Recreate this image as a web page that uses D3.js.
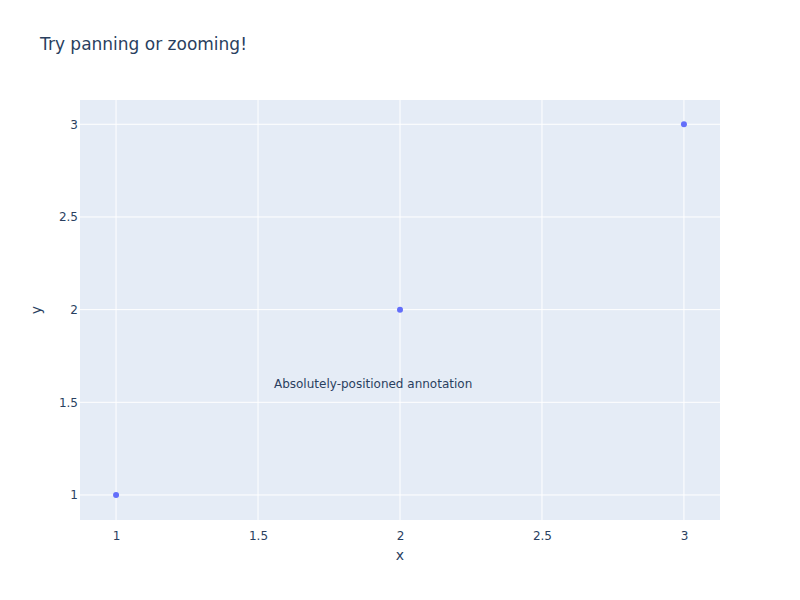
<!DOCTYPE html>
<html>
<head>
<meta charset="utf-8">
<script src="https://cdn.jsdelivr.net/npm/d3@7"></script>
<style>
  body { margin: 0; background: #fff; }
  svg text { font-family: "DejaVu Sans", verdana, arial, sans-serif; }
</style>
</head>
<body>
<svg id="chart" width="800" height="600"></svg>
<script>
const xValues = [1, 2, 3];
const yValues = [1, 2, 3];
const xTicks = [1, 1.5, 2, 2.5, 3];
const yTicks = [1, 1.5, 2, 2.5, 3];
const titleText = "Try panning or zooming!";
const annotationText = "Absolutely-positioned annotation";
const xDomain = [0.873, 3.127];
const yDomain = [0.865, 3.131];

const W = 800, H = 600;
const margin = { l: 80, r: 80, t: 100, b: 80 };
const pw = W - margin.l - margin.r, ph = H - margin.t - margin.b;
const textColor = "#2a3f5f";

const svg = d3.select("#chart");
const g = svg.append("g").attr("transform", `translate(${margin.l},${margin.t})`);

const x = d3.scaleLinear().domain(xDomain).range([0, pw]);
const y = d3.scaleLinear().domain(yDomain).range([ph, 0]);

g.append("rect").attr("width", pw).attr("height", ph).attr("fill", "#e5ecf6");

// gridlines
g.append("g").selectAll("line").data(xTicks).join("line")
  .attr("x1", d => x(d)).attr("x2", d => x(d))
  .attr("y1", 0).attr("y2", ph)
  .attr("stroke", "#fff").attr("stroke-width", 1);
g.append("g").selectAll("line").data(yTicks).join("line")
  .attr("y1", d => y(d)).attr("y2", d => y(d))
  .attr("x1", 0).attr("x2", pw)
  .attr("stroke", "#fff").attr("stroke-width", 1);

// axes
const xAxis = d3.axisBottom(x).tickValues(xTicks).tickSize(0).tickPadding(8).tickFormat(d3.format("~g"));
const gx = g.append("g").attr("transform", `translate(0,${ph})`).call(xAxis);
gx.select(".domain").remove();
gx.selectAll("text").attr("fill", textColor).style("font-size", "12px").attr("dy", "0.71em").attr("y", 11);

const yAxis = d3.axisLeft(y).tickValues(yTicks).tickSize(0).tickPadding(8).tickFormat(d3.format("~g"));
const gy = g.append("g").call(yAxis);
gy.select(".domain").remove();
gy.selectAll("text").attr("fill", textColor).style("font-size", "12px").attr("x", -2 - 0).attr("x", -2).attr("x", -1).attr("x", -2);
gy.selectAll("text").attr("x", -2);

// markers
g.append("g").selectAll("circle").data(xValues.map((v, i) => [v, yValues[i]])).join("circle")
  .attr("cx", d => x(d[0])).attr("cy", d => y(d[1])).attr("r", 3)
  .attr("fill", "#636efa");

// annotation (paper-positioned)
g.append("text")
  .attr("x", 0.458 * pw).attr("y", ph - 0.324 * ph)
  .attr("text-anchor", "middle").attr("dominant-baseline", "central")
  .attr("fill", textColor).style("font-size", "12px")
  .text(annotationText);

// title
svg.append("text").attr("x", 40).attr("y", 50)
  .attr("fill", textColor).style("font-size", "17px")
  .text(titleText);

// axis titles
svg.append("text").attr("x", margin.l + pw / 2).attr("y", 560)
  .attr("text-anchor", "middle").attr("fill", textColor).style("font-size", "14px").text("x");
svg.append("text").attr("transform", `translate(41,${margin.t + ph / 2}) rotate(-90)`)
  .attr("text-anchor", "middle").attr("fill", textColor).style("font-size", "14px").text("y");
</script>
</body>
</html>
